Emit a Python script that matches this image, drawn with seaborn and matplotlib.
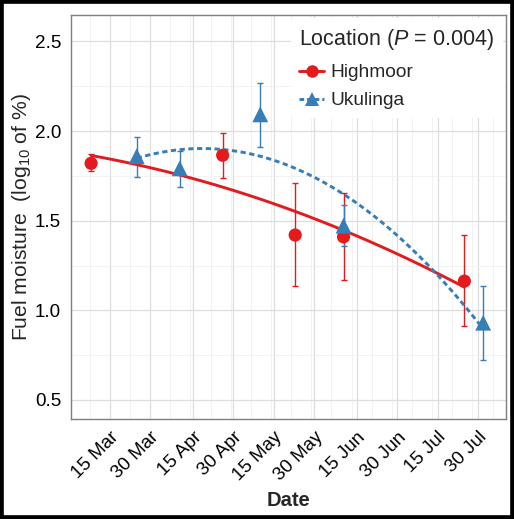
import pandas as pd
import numpy as np
import matplotlib
matplotlib.use('Agg')
import matplotlib.pyplot as plt
import matplotlib.dates as mdates
from matplotlib.lines import Line2D
from matplotlib.patches import Rectangle
from matplotlib.ticker import AutoMinorLocator
import seaborn as sns

# ---------------------------------------------------------
# 資料 (從圖上讀出的估計值)
highmoor_dates = ['2015-03-08', '2015-04-26', '2015-05-23', '2015-06-10', '2015-07-25']
highmoor_mean = [1.82, 1.865, 1.42, 1.41, 1.163]
highmoor_lo = [1.777, 1.736, 1.135, 1.169, 0.912]
highmoor_hi = [1.870, 1.990, 1.708, 1.652, 1.418]

ukulinga_dates = ['2015-03-25', '2015-04-10', '2015-05-10', '2015-06-10', '2015-08-01']
ukulinga_mean = [1.86, 1.792, 2.093, 1.472, 0.931]
ukulinga_lo = [1.743, 1.686, 1.911, 1.358, 0.722]
ukulinga_hi = [1.965, 1.890, 2.266, 1.587, 1.135]

tick_dates = ['2015-03-15', '2015-03-30', '2015-04-15', '2015-04-30', '2015-05-15',
              '2015-05-30', '2015-06-15', '2015-06-30', '2015-07-15', '2015-07-30']
tick_labels = ['15 Mar', '30 Mar', '15 Apr', '30 Apr', '15 May',
               '30 May', '15 Jun', '30 Jun', '15 Jul', '30 Jul']
y_ticks = [0.5, 1.0, 1.5, 2.0, 2.5]

RED = '#E41A1C'
BLUE = '#377EB8'

sns.set_style("white")
plt.rcParams['font.family'] = ['Liberation Sans', 'DejaVu Sans']
plt.rcParams['mathtext.fontset'] = 'custom'
plt.rcParams['mathtext.rm'] = 'Liberation Sans'
plt.rcParams['mathtext.it'] = 'Liberation Sans:italic'


def to_frame(dates, mean, lo, hi, name):
    df = pd.DataFrame({'date': pd.to_datetime(dates), 'mean': mean, 'lo': lo, 'hi': hi})
    df['x'] = mdates.date2num(df['date'])
    df['Location'] = name
    return df


df_h = to_frame(highmoor_dates, highmoor_mean, highmoor_lo, highmoor_hi, 'Highmoor')
df_u = to_frame(ukulinga_dates, ukulinga_mean, ukulinga_lo, ukulinga_hi, 'Ukulinga')

fig = plt.figure(figsize=(5.14, 5.19), dpi=100)
ax = fig.add_axes([0.138, 0.1927, 0.846, 0.7783])

# 格線
ax.set_axisbelow(True)
ax.grid(True, which='major', color='#DDDDDD', linewidth=0.9)
ax.grid(True, which='minor', color='#F0F0F0', linewidth=0.6)

# 誤差線
for df, col in [(df_h, RED), (df_u, BLUE)]:
    ax.errorbar(df['x'], df['mean'],
                yerr=[df['mean'] - df['lo'], df['hi'] - df['mean']],
                fmt='none', ecolor=col, elinewidth=1.0, capsize=2, capthick=1.0, zorder=2)

# 二次迴歸線
sns.regplot(data=df_h, x='x', y='mean', order=2, ci=None, scatter=False, truncate=True,
            line_kws={'color': RED, 'linewidth': 2.1, 'zorder': 3}, ax=ax)
sns.regplot(data=df_u, x='x', y='mean', order=2, ci=None, scatter=False, truncate=True,
            line_kws={'color': BLUE, 'linewidth': 2.1, 'linestyle': (0, (1.8, 1.2)), 'zorder': 3}, ax=ax)

# 點
ax.scatter(df_h['x'], df_h['mean'], marker='o', s=90, color=RED, edgecolor='none', zorder=4)
ax.scatter(df_u['x'], df_u['mean'], marker='^', s=130, color=BLUE, edgecolor='none', zorder=4)

# 軸設定
ax.set_xlim(mdates.date2num(pd.Timestamp('2015-02-28 12:00')), mdates.date2num(pd.Timestamp('2015-08-09 10:00')))
ax.set_ylim(0.394, 2.647)
ax.set_xticks(mdates.date2num(pd.to_datetime(tick_dates)))
ax.set_xticklabels(tick_labels, rotation=45, ha='right', rotation_mode='anchor', fontsize=13.5)
ax.xaxis.set_minor_locator(AutoMinorLocator(2))
ax.set_yticks(y_ticks)
ax.set_yticklabels([f'{v:.1f}' for v in y_ticks], fontsize=13.6)
ax.yaxis.set_minor_locator(AutoMinorLocator(2))
ax.tick_params(axis='both', which='major', length=4, width=1, color='#333333', labelcolor='black', pad=3)
ax.tick_params(axis='both', which='minor', length=0)
for s in ax.spines.values():
    s.set_color('#7F7F7F')
    s.set_linewidth(1.0)

ax.set_xlabel('Date', fontsize=14.5, fontweight='bold', labelpad=5)
ax.set_ylabel('Fuel moisture  (log$_{10}$ of %)', fontsize=15.2, labelpad=1)

# 圖例
handles = [
    Line2D([0], [0], color=RED, linewidth=2.1, marker='o', markersize=9, markeredgewidth=0),
    Line2D([0], [0], color=BLUE, linewidth=2.1, linestyle=(0, (1.6, 1.0)), marker='^', markersize=10.5, markeredgewidth=0),
]
leg = ax.legend(handles, ['Highmoor', 'Ukulinga'], title='Location ($\\it{P}$ = 0.004)',
                loc='upper right', bbox_to_anchor=(1.0, 1.0), frameon=True, fontsize=13.8,
                title_fontsize=15.5, handlelength=1.3, handletextpad=0.3, labelspacing=0.55,
                borderpad=0.45, borderaxespad=0.15)
leg._legend_box.align = 'left'
leg._legend_box.sep = 9
leg.get_frame().set_edgecolor('none')
leg.get_frame().set_facecolor('white')
leg.get_frame().set_alpha(1.0)

# 外框
fig.patches.append(Rectangle((0, 0), 1, 1, transform=fig.transFigure, fill=False,
                             edgecolor='black', linewidth=5.5))

fig.savefig('out.png', dpi=100)
